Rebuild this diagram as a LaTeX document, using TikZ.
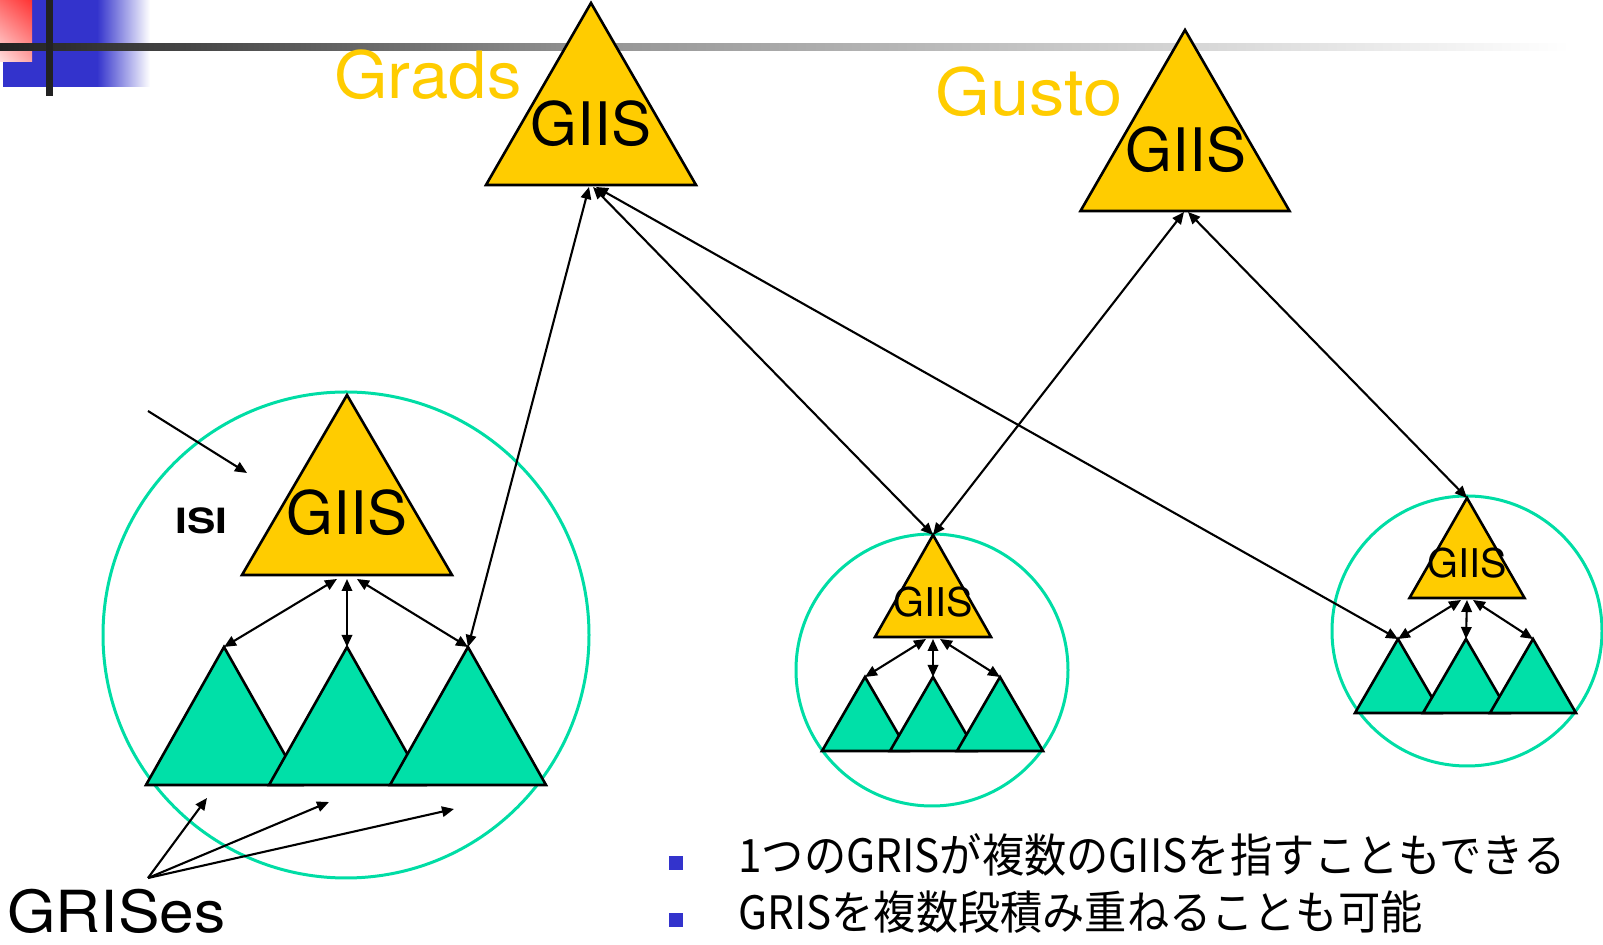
\documentclass[tikz,border=0pt]{standalone}
\usepackage{fontspec}
\setmainfont{TeX Gyre Heros}
\newfontfamily\jpfont{Noto Sans CJK JP}
\usetikzlibrary{arrows.meta,shadings}
\definecolor{giisyellow}{HTML}{FFCC00}
\definecolor{grisgreen}{HTML}{00E0A8}
\definecolor{ringgreen}{HTML}{00DDA5}
\definecolor{decoblue}{HTML}{3333CC}
\definecolor{decodark}{HTML}{222222}
\definecolor{decogray}{HTML}{959595}
\definecolor{bulletblue}{HTML}{3333CC}

% triangle: name, style, apex x, apex y, half width, height
\newcommand{\tri}[6]{%
  \coordinate (#1) at (#3,#4);
  \draw[#2] (#1) -- ++(-#5,#6) -- ++({2*#5},0) -- cycle;}

\begin{document}
\begin{tikzpicture}[x=0.5pt,y=-0.5pt,
  giis/.style={draw=black, line width=1.3pt, fill=giisyellow},
  gris/.style={draw=black, line width=1.3pt, fill=grisgreen},
  ring/.style={draw=ringgreen, line width=1.5pt},
  link/.style={line width=1.05pt, {Triangle[length=6pt,width=5.2pt]}-{Triangle[length=6pt,width=5.2pt]}},
  pointer/.style={line width=1.05pt, -{Triangle[length=6pt,width=5.2pt]}},
  txt/.style={inner sep=0pt, anchor=base},
]
\useasboundingbox (0,0) rectangle (1603,945);

% corner ornament and title rule
\fill[decoblue] (3,0) rectangle (97,87);
\shade[left color=decoblue, right color=white] (97,0) rectangle (150,87);
\shade[upper left=red!60, upper right=red!80, lower left=red!12, lower right=red!35] (0,0) rectangle (32,62);
\shade[left color=decodark, right color=decogray] (0,44) rectangle (600,51);
\shade[left color=decogray, right color=white] (600,44) rectangle (1570,51);
\fill[decodark] (46,0) rectangle (53,96);

% domains
\draw[ring] (346,635) circle (243);
\draw[ring] (932,670) circle (136);
\draw[ring] (1467,631) circle (135);

% index servers
\tri{grads}{giis}{591}{3}{105}{182}
\tri{gusto}{giis}{1185}{30}{104.5}{181}
\tri{isi}{giis}{347}{395}{105}{180}
\tri{mid}{giis}{933}{535}{58}{102}
\tri{rgt}{giis}{1467}{498}{57.5}{100}

% resource servers
\tri{isi1}{gris}{224}{647}{78}{138}
\tri{isi2}{gris}{347}{647}{78}{138}
\tri{isi3}{gris}{468}{647}{78}{138}
\tri{mid1}{gris}{865}{677}{43}{74}
\tri{mid2}{gris}{933}{677}{43}{74}
\tri{mid3}{gris}{1000}{677}{43}{74}
\tri{rgt1}{gris}{1398}{639}{43}{74}
\tri{rgt2}{gris}{1466}{639}{43}{74}
\tri{rgt3}{gris}{1533}{639}{43}{74}

% texts
\node[txt, anchor=base west, text=giisyellow] (gradsname) at (334,99)
  {\resizebox{93.5pt}{\height}{\fontsize{32.6}{36}\selectfont Grads}};
\node[txt, anchor=base west, text=giisyellow] (gustoname) at (935,116)
  {\resizebox{93.5pt}{\height}{\fontsize{32.6}{36}\selectfont Gusto}};
\node[txt] (gradsgiis) at (591,146) {\fontsize{30}{36}\selectfont GIIS};
\node[txt] (gustogiis) at (1186,172) {\fontsize{30}{36}\selectfont GIIS};
\node[txt] (isigiis) at (347,535) {\fontsize{30}{36}\selectfont GIIS};
\node[txt] (midgiis) at (933,617) {\fontsize{19.8}{24}\selectfont GIIS};
\node[txt] (rgtgiis) at (1467,578) {\fontsize{19.8}{24}\selectfont GIIS};
\node[txt, anchor=base west] (isiname) at (175,534)
  {\resizebox{26pt}{\height}{\bfseries\fontsize{17.4}{20}\selectfont ISI}};
\node[txt, anchor=base west] (grisname) at (7,933)
  {\resizebox{109pt}{\height}{\fontsize{29}{34}\selectfont GRISes}};

% hub points under the index servers
\coordinate (gradsA) at (589,187);
\coordinate (gradsB) at (593,187);
\coordinate (gradsC) at (596,187);
\coordinate (gustoA) at (1184,212);
\coordinate (gustoB) at (1188,212);
\coordinate (isiL) at (337,579);
\coordinate (isiC) at (347,579);
\coordinate (isiR) at (357,579);
\coordinate (midL) at (926,639);
\coordinate (midC) at (933,639);
\coordinate (midR) at (940,639);
\coordinate (rgtL) at (1461,600);
\coordinate (rgtC) at (1467,600);
\coordinate (rgtR) at (1473,600);

% registrations between levels
\draw[link] (gradsA) -- (isi3);
\draw[link] (gradsB) -- (mid);
\draw[link] (gradsC) -- (rgt1);
\draw[link] (gustoA) -- (mid);
\draw[link] (gustoB) -- (rgt);

\draw[link] (isiL) -- (isi1);
\draw[link] (isiC) -- (isi2);
\draw[link] (isiR) -- (isi3);
\draw[link] (midL) -- (mid1);
\draw[link] (midC) -- (mid2);
\draw[link] (midR) -- (mid3);
\draw[link] (rgtL) -- (rgt1);
\draw[link] (rgtC) -- (rgt2);
\draw[link] (rgtR) -- (rgt3);

% callouts
\coordinate (isiTail) at (148,411);
\coordinate (isiHead) at (247,473);
\draw[pointer] (isiTail) -- (isiHead);
\coordinate (grisTail) at (148,878);
\coordinate (grisHead1) at (207,798);
\coordinate (grisHead2) at (329,802);
\coordinate (grisHead3) at (454,809);
\draw[pointer] (grisTail) -- (grisHead1);
\draw[pointer] (grisTail) -- (grisHead2);
\draw[pointer] (grisTail) -- (grisHead3);

% bullet notes
\node[fill=bulletblue, minimum size=7pt, inner sep=0pt] (bul1) at (676,863) {};
\node[fill=bulletblue, minimum size=7pt, inner sep=0pt] (bul2) at (676,920) {};
\node[txt, anchor=base west] (note1) at (738,873)
  {\resizebox{413.5pt}{\height}{\jpfont\fontsize{23}{27}\selectfont 1つのGRISが複数のGIISを指すこともできる}};
\node[txt, anchor=base west] (note2) at (738,930)
  {\resizebox{342pt}{\height}{\jpfont\fontsize{23}{27}\selectfont GRISを複数段積み重ねることも可能}};
\end{tikzpicture}
\end{document}
